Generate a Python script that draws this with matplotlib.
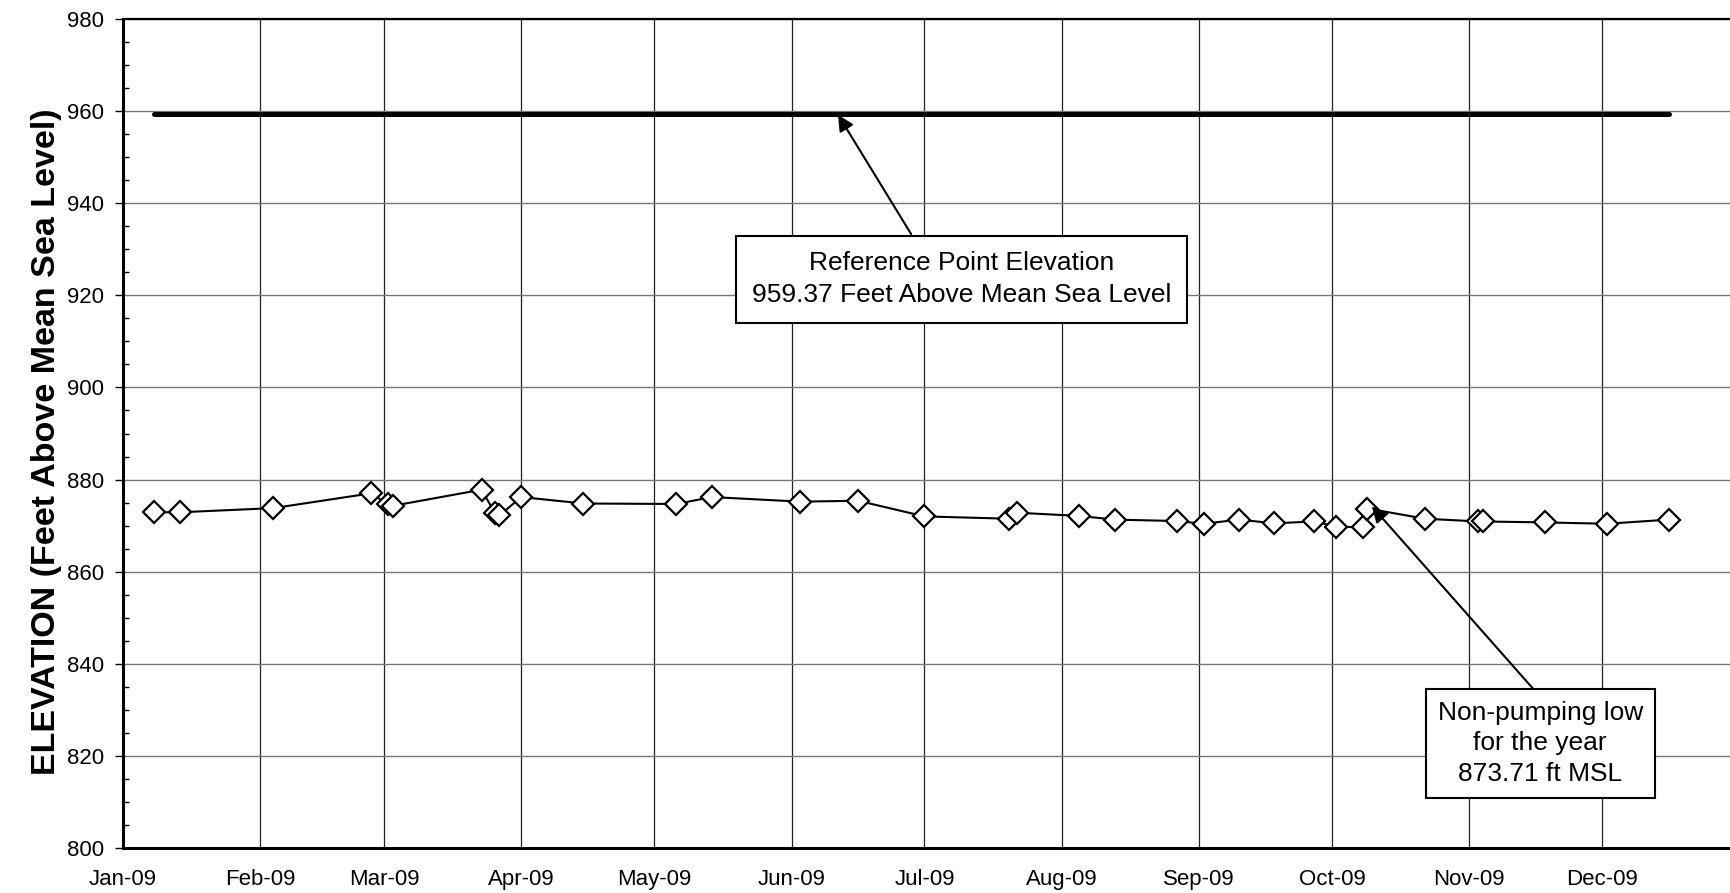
import matplotlib

matplotlib.use("Agg")

import matplotlib.dates as mdates
import matplotlib.pyplot as plt
import pandas as pd
from matplotlib.ticker import FixedLocator, MultipleLocator

plt.rcParams["font.family"] = ["Liberation Sans", "DejaVu Sans"]

# water level readings, 2009 (ft above mean sea level)
dates = [
    "2009-01-08", "2009-01-14", "2009-02-04", "2009-02-26", "2009-03-02",
    "2009-03-03", "2009-03-23", "2009-03-26", "2009-03-27", "2009-04-01",
    "2009-04-15", "2009-05-06", "2009-05-14", "2009-06-03", "2009-06-16",
    "2009-07-01", "2009-07-20", "2009-07-22", "2009-08-05", "2009-08-13",
    "2009-08-27", "2009-09-02", "2009-09-10", "2009-09-18", "2009-09-27",
    "2009-10-02", "2009-10-08", "2009-10-09", "2009-10-22", "2009-11-03",
    "2009-11-04", "2009-11-18", "2009-12-02", "2009-12-16",
]
elevation = [
    872.9, 872.9, 873.8, 877.0, 874.6,
    874.3, 877.8, 872.8, 872.2, 876.2,
    874.8, 874.7, 876.2, 875.2, 875.4,
    872.0, 871.5, 872.8, 872.1, 871.3,
    871.0, 870.4, 871.3, 870.5, 870.9,
    869.8, 869.6, 873.71, 871.5, 870.9,
    870.9, 870.7, 870.4, 871.3,
]
reference_elev = 959.37
month_ticks = pd.date_range("2009-01-01", "2009-12-01", freq="MS")

ref_text = "Reference Point Elevation\n959.37 Feet Above Mean Sea Level"
low_text = "Non-pumping low\nfor the year\n873.71 ft MSL"

dates = pd.to_datetime(dates)

fig = plt.figure(figsize=(17.31, 8.93), dpi=100)
ax = fig.add_axes([0.0709, 0.0504, 0.934, 0.9283])

ax.plot([dates[0], dates[-1]], [reference_elev, reference_elev],
        color="black", linewidth=3.6, solid_capstyle="round", zorder=3)
ax.plot(dates, elevation, color="black", linewidth=1.5, marker="D",
        markersize=11.5, markerfacecolor="white", markeredgecolor="black",
        markeredgewidth=1.6, zorder=4)

ax.set_xlim(pd.Timestamp("2009-01-01"), pd.Timestamp("2010-01-01"))
ax.set_ylim(800, 980)

ax.xaxis.set_major_locator(FixedLocator(mdates.date2num(month_ticks)))
ax.xaxis.set_major_formatter(mdates.DateFormatter("%b-%y"))
ax.yaxis.set_major_locator(MultipleLocator(20))
ax.yaxis.set_minor_locator(MultipleLocator(5))

ax.tick_params(axis="x", length=0, pad=15, labelsize=16)
ax.tick_params(axis="y", which="major", direction="out", length=5.5,
               width=1, pad=8, labelsize=16)
ax.tick_params(axis="y", which="minor", direction="in", length=4.3, width=1)

ax.grid(axis="x", color="#222222", linewidth=0.9, zorder=0)
ax.grid(axis="y", which="major", color="#777777", linewidth=1.0, zorder=0)
ax.set_axisbelow(True)

for side in ["left", "bottom"]:
    ax.spines[side].set_linewidth(2.2)
ax.spines["top"].set_linewidth(1.6)
ax.spines["right"].set_visible(False)

ax.set_ylabel("ELEVATION (Feet Above Mean Sea Level)", fontsize=24.5,
              fontweight="bold")
ax.yaxis.set_label_coords(-0.0375, 0.49)

arrow = dict(arrowstyle="-|>,head_length=0.6,head_width=0.3", color="black",
             linewidth=1.5, mutation_scale=16, shrinkA=0, shrinkB=0)

ax.annotate("", xy=(pd.Timestamp("2009-06-11 12:00"), 959.2),
            xytext=(pd.Timestamp("2009-06-28"), 933.3), arrowprops=arrow,
            zorder=5)
ax.text(pd.Timestamp("2009-07-09 08:00"), 923.5, ref_text, fontsize=19,
        ha="center", va="center", linespacing=1.4,
        bbox=dict(boxstyle="square,pad=0.6", facecolor="white",
                  edgecolor="black", linewidth=1.5), zorder=6)

ax.annotate("", xy=(pd.Timestamp("2009-10-10"), 874.2),
            xytext=(pd.Timestamp("2009-11-15 16:00"), 834.3), arrowprops=arrow,
            zorder=5)
ax.text(pd.Timestamp("2009-11-17"), 822.7, low_text, fontsize=19,
        ha="center", va="center", linespacing=1.35,
        bbox=dict(boxstyle="square,pad=0.45", facecolor="white",
                  edgecolor="black", linewidth=1.5), zorder=6)

fig.savefig("out.png", dpi=100)
